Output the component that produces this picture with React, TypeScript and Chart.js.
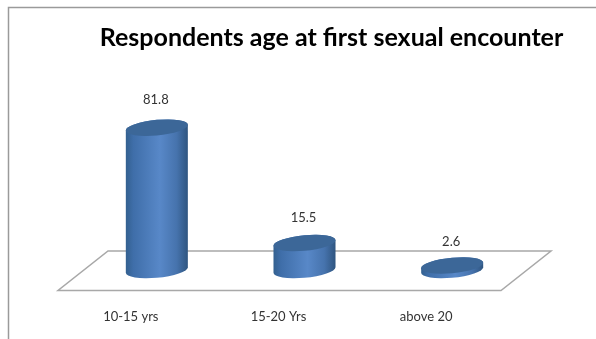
import { useEffect, useRef } from "react";
import { Chart, registerables, type Plugin } from "chart.js";

Chart.register(...registerables);

const chartTitle = "Respondents age at first sexual encounter";
const ageGroups = ["10-15 yrs", "15-20 Yrs", "above 20"];
const percentages = [81.8, 15.5, 2.6];

const FONT = "Lato, Carlito, sans-serif";
const SHEAR = -0.09;
const CAP_RY = 7.8;

// Page frame and heading, painted beneath everything else.
const framePlugin: Plugin<"bar"> = {
  id: "frame",
  beforeDraw(chart) {
    const { ctx, width, height } = chart;
    ctx.save();
    ctx.fillStyle = "#ffffff";
    ctx.fillRect(0, 0, width, height);
    ctx.strokeStyle = "#9a9a9a";
    ctx.lineWidth = 1.5;
    ctx.beginPath();
    ctx.moveTo(8.5, height);
    ctx.lineTo(8.5, 7.5);
    ctx.lineTo(width, 7.5);
    ctx.stroke();
    ctx.fillStyle = "#000000";
    ctx.font = `bold 25px ${FONT}`;
    ctx.textAlign = "center";
    ctx.textBaseline = "middle";
    ctx.fillText(chartTitle, 331.5, 37.5);
    ctx.restore();
  },
};

// Perspective floor under the columns, anchored to the plot area.
const floorPlugin: Plugin<"bar"> = {
  id: "floor",
  beforeDatasetsDraw(chart) {
    const { ctx, chartArea } = chart;
    const slant = 25;
    const back = chartArea.bottom - 19;
    const front = chartArea.bottom + 20.5;
    ctx.save();
    ctx.strokeStyle = "#a8a8a8";
    ctx.lineWidth = 1.5;
    ctx.beginPath();
    ctx.moveTo(chartArea.left - slant, front);
    ctx.lineTo(chartArea.right - slant, front);
    ctx.lineTo(chartArea.right + slant, back);
    ctx.lineTo(chartArea.left + slant, back);
    ctx.closePath();
    ctx.stroke();
    ctx.restore();
  },
};

// Turns each bar element into a cylinder and prints its value above it.
const cylinderPlugin: Plugin<"bar"> = {
  id: "cylinders",
  afterDatasetsDraw(chart) {
    const { ctx } = chart;
    const meta = chart.getDatasetMeta(0);
    meta.data.forEach((el, i) => {
      const { x, y, base, width } = el.getProps(["x", "y", "base", "width"], true) as unknown as {
        x: number;
        y: number;
        base: number;
        width: number;
      };
      const rx = width / 2;
      const left = x - rx;
      const gradient = ctx.createLinearGradient(left, 0, left + width, 0);
      gradient.addColorStop(0, "#33608f");
      gradient.addColorStop(0.12, "#3f6ea9");
      gradient.addColorStop(0.55, "#5888c8");
      gradient.addColorStop(0.82, "#4673ad");
      gradient.addColorStop(1, "#2f5580");

      ctx.save();
      // A vertical shear keeps the sides tangent to the tilted end caps.
      ctx.transform(1, SHEAR, 0, 1, 0, -SHEAR * x);
      ctx.fillStyle = gradient;
      ctx.beginPath();
      ctx.ellipse(x, base, rx, CAP_RY, 0, 0, Math.PI);
      ctx.ellipse(x, y, rx, CAP_RY, 0, Math.PI, Math.PI * 2);
      ctx.closePath();
      ctx.fill();

      ctx.fillStyle = "#3c6798";
      ctx.beginPath();
      ctx.ellipse(x, y, rx, CAP_RY, 0, 0, Math.PI * 2);
      ctx.fill();
      ctx.restore();

      const lift = 24 + (base - y) * 0.03;
      ctx.save();
      ctx.fillStyle = "#333333";
      ctx.font = `13px ${FONT}`;
      ctx.textAlign = "center";
      ctx.textBaseline = "middle";
      ctx.fillText(String(percentages[i]), x - 1, y - lift);
      ctx.restore();
    });
  },
};

export default function App() {
  const canvasRef = useRef<HTMLCanvasElement>(null);

  useEffect(() => {
    document.body.style.margin = "0";
    const chart = new Chart(canvasRef.current!, {
      type: "bar",
      data: {
        labels: ageGroups,
        datasets: [
          {
            data: percentages,
            backgroundColor: "transparent",
            borderWidth: 0,
            categoryPercentage: 1,
            barPercentage: 0.42,
          },
        ],
      },
      options: {
        responsive: false,
        animation: false,
        layout: { padding: { left: 83, right: 70, top: 96, bottom: 0 } },
        plugins: { legend: { display: false }, tooltip: { enabled: false } },
        scales: {
          x: {
            grid: { display: false, drawTicks: false },
            border: { display: false },
            afterFit(scale) {
              scale.height = 69;
            },
            ticks: {
              padding: 39,
              labelOffset: -26,
              maxRotation: 0,
              color: "#333333",
              font: { family: FONT, size: 13 },
            },
          },
          y: { display: false, min: 0, max: 100 },
        },
      },
      plugins: [framePlugin, floorPlugin, cylinderPlugin],
    });
    return () => chart.destroy();
  }, []);

  return <canvas ref={canvasRef} width={596} height={339} style={{ display: "block" }} />;
}
